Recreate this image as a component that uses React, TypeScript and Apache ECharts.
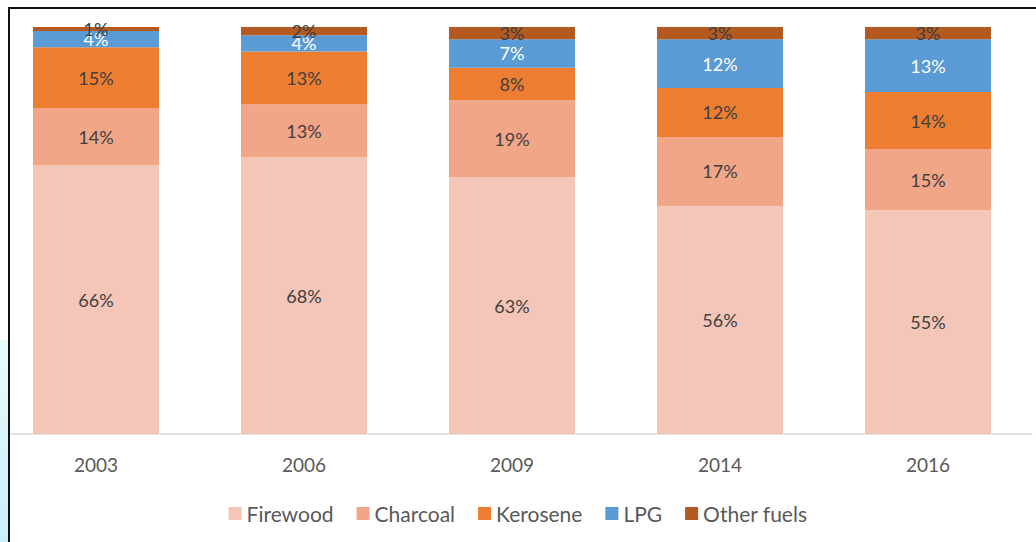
import React, { useEffect, useRef } from "react";
import * as echarts from "echarts";

const categories = ["2003", "2006", "2009", "2014", "2016"];
const seriesNames = ["Firewood", "Charcoal", "Kerosene", "LPG", "Other fuels"];
const firewood = [66, 68, 63, 56, 55];
const charcoal = [14, 13, 19, 17, 15];
const kerosene = [15, 13, 8, 12, 14];
const lpg = [4, 4, 7, 12, 13];
const otherFuels = [1, 2, 3, 3, 3];
const colors = ["#f4c6b7", "#f1a688", "#ed7d31", "#5b9bd5", "#b45a20"];
const labelColors = ["#404040", "#404040", "#404040", "#ffffff", "#404040"];

export default function App() {
  const ref = useRef<HTMLDivElement>(null);
  useEffect(() => {
    if (!ref.current) return;
    const chart = echarts.init(ref.current, null, { renderer: "svg" });
    const data = [firewood, charcoal, kerosene, lpg, otherFuels];
    const font = "Lato, 'Open Sans', sans-serif";
    chart.setOption({
      animation: false,
      backgroundColor: "#ffffff",
      textStyle: { fontFamily: font },
      grid: {
        left: -8,
        width: 1040,
        top: 27,
        bottom: 108,
        containLabel: false,
        outerBoundsMode: "none",
      },
      legend: {
        bottom: 13,
        left: "center",
        itemWidth: 13,
        itemHeight: 13,
        itemGap: 23,
        icon: "rect",
        textStyle: { color: "#595959", fontSize: 21, fontFamily: font },
        data: seriesNames,
      },
      xAxis: {
        type: "category",
        data: categories,
        axisLine: { show: true, lineStyle: { color: "#d9d9d9", width: 1.5 } },
        axisTick: { show: false },
        axisLabel: { color: "#595959", fontSize: 19, margin: 21, fontFamily: font },
      },
      yAxis: {
        type: "value",
        min: 0,
        max: 100,
        show: false,
        splitLine: { show: false },
      },
      series: seriesNames.map((name, i) => ({
        name,
        type: "bar",
        stack: "total",
        barWidth: 126,
        data: data[i],
        itemStyle: { color: colors[i] },
        label: {
          show: true,
          position: "inside",
          formatter: "{c}%",
          color: labelColors[i],
          fontSize: 18,
          fontFamily: font,
        },
      })),
      graphic: [
        {
          type: "rect",
          shape: { x: 0, y: 340, width: 8, height: 202 },
          style: {
            fill: new echarts.graphic.LinearGradient(0, 0, 0, 1, [
              { offset: 0, color: "#eafafd" },
              { offset: 1, color: "#c9f0fa" },
            ]),
          },
          z: 100,
        },
        { type: "rect", shape: { x: 8, y: 7, width: 1028, height: 2 }, style: { fill: "#111111" }, z: 100 },
        { type: "rect", shape: { x: 8, y: 7, width: 2, height: 535 }, style: { fill: "#111111" }, z: 100 },
        { type: "rect", shape: { x: 0, y: 0, width: 8, height: 340 }, style: { fill: "#ffffff" }, z: 99 },
      ],
    });
    return () => chart.dispose();
  }, []);
  return (
    <div
      ref={ref}
      style={{ position: "fixed", left: 0, top: 0, width: 1036, height: 542 }}
    />
  );
}
